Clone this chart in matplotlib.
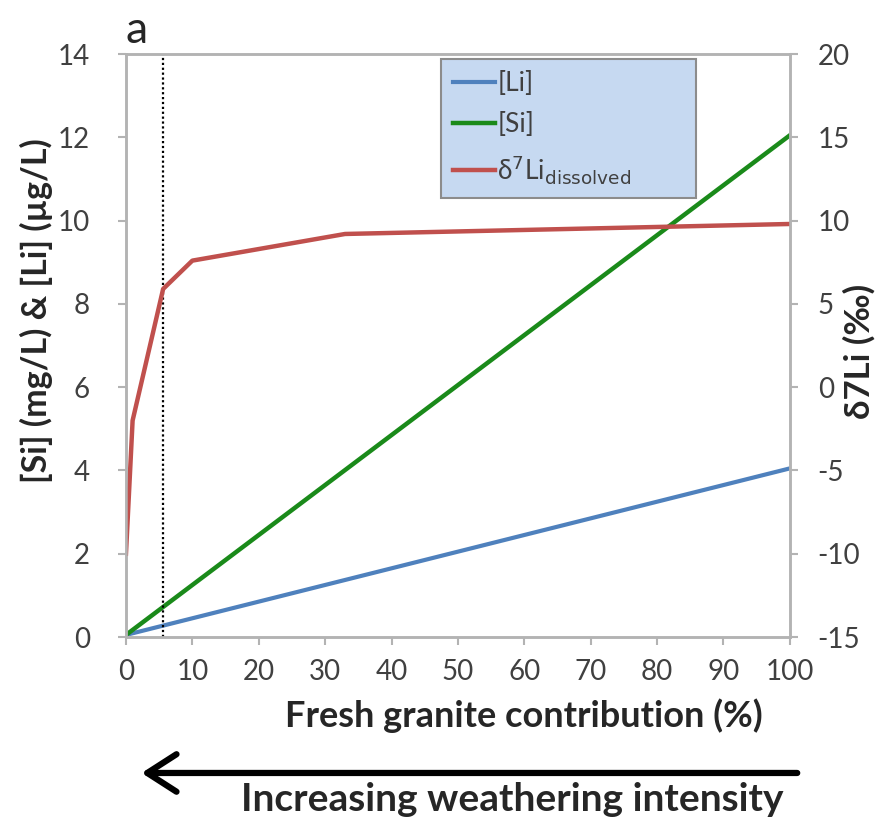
import matplotlib.pyplot as plt
from matplotlib.patches import FancyArrowPatch
import numpy as np

plt.rcParams['font.family'] = ['Lato', 'DejaVu Sans']
plt.rcParams['axes.unicode_minus'] = False

# fresh granite contribution (%)
x_lin = [0, 100]
li_conc = [0.05, 4.05]      # [Li] (ug/L)
si_conc = [0.05, 12.05]     # [Si] (mg/L)

# delta7Li dissolved (permil), right axis
x_d7 = [0, 1, 5.6, 10, 33, 100]
d7li = [-10, -2.0, 5.9, 7.6, 9.2, 9.8]

x_mark = 5.6

gray = '#b3b3b3'
text_c = '#404040'
label_c = '#262626'

fig = plt.figure(figsize=(8.84, 8.21), dpi=100)
ax = fig.add_axes([0.1425, 0.2241, 0.751, 0.710])
ax2 = ax.twinx()

ax.plot(x_lin, li_conc, color='#4f81bd', lw=3, label='[Li]')
ax.plot(x_lin, si_conc, color='#1a8a1a', lw=3.2, label='[Si]')
l3, = ax2.plot(x_d7, d7li, color='#c0504d', lw=3.2,
               label=r'δ$^7$Li$_{\mathrm{dissolved}}$')
ax.axvline(x_mark, color='black', lw=1.6, ls=(0, (1, 1.2)))

ax.set_xlim(0, 100)
ax.set_ylim(0, 14)
ax2.set_ylim(-15, 20)
ax.set_xticks(np.arange(0, 101, 10))
ax.set_yticks(np.arange(0, 15, 2))
ax2.set_yticks(np.arange(-15, 21, 5))

for a in (ax, ax2):
    for s in a.spines.values():
        s.set_color(gray)
        s.set_linewidth(1.8)
    a.tick_params(colors=gray, labelcolor=text_c, labelsize=20,
                  length=6, width=1.5, direction='out')
ax.tick_params(axis='x', pad=10)
ax.tick_params(axis='y', pad=20)
ax2.tick_params(axis='y', pad=14)

ax.set_xlabel('Fresh granite contribution (%)', fontsize=26,
              fontweight='bold', color=label_c)
ax.xaxis.set_label_coords(0.60, -0.105)
ax.set_ylabel('[Si] (mg/L) & [Li] (µg/L)', fontsize=24.5,
              fontweight='bold', color=label_c)
ax.yaxis.set_label_coords(-0.11, 0.56)
ax2.set_ylabel('δ7Li (‰)', fontsize=25, fontweight='bold', color=label_c)
ax2.yaxis.set_label_coords(1.08, 0.49)

h1, lab1 = ax.get_legend_handles_labels()
leg = ax.legend(h1 + [l3], lab1 + [l3.get_label()],
                loc='upper left', bbox_to_anchor=(0.474, 0.0, 0.384, 0.991),
                mode='expand', fontsize=19, frameon=True, fancybox=False,
                handlelength=1.6, handletextpad=0.1, labelspacing=0.6,
                borderpad=0.45, borderaxespad=0, labelcolor=text_c)
frame = leg.get_frame()
frame.set_facecolor('#c6d9f1')
frame.set_edgecolor('#8c8c8c')
frame.set_linewidth(1.5)
frame.set_alpha(1)

fig.text(0.142, 0.948, 'a', fontsize=32, color=label_c)

fig.patches.append(FancyArrowPatch(
    (0.905, 0.0585), (0.157, 0.0585), transform=fig.transFigure,
    arrowstyle='->,head_length=14,head_width=9', lw=4.5, color='black',
    mutation_scale=1.5))
fig.text(0.58, 0.026, 'Increasing weathering intensity', fontsize=28,
         fontweight='bold', color=label_c, ha='center', va='center')

fig.savefig('out.png', dpi=100)
